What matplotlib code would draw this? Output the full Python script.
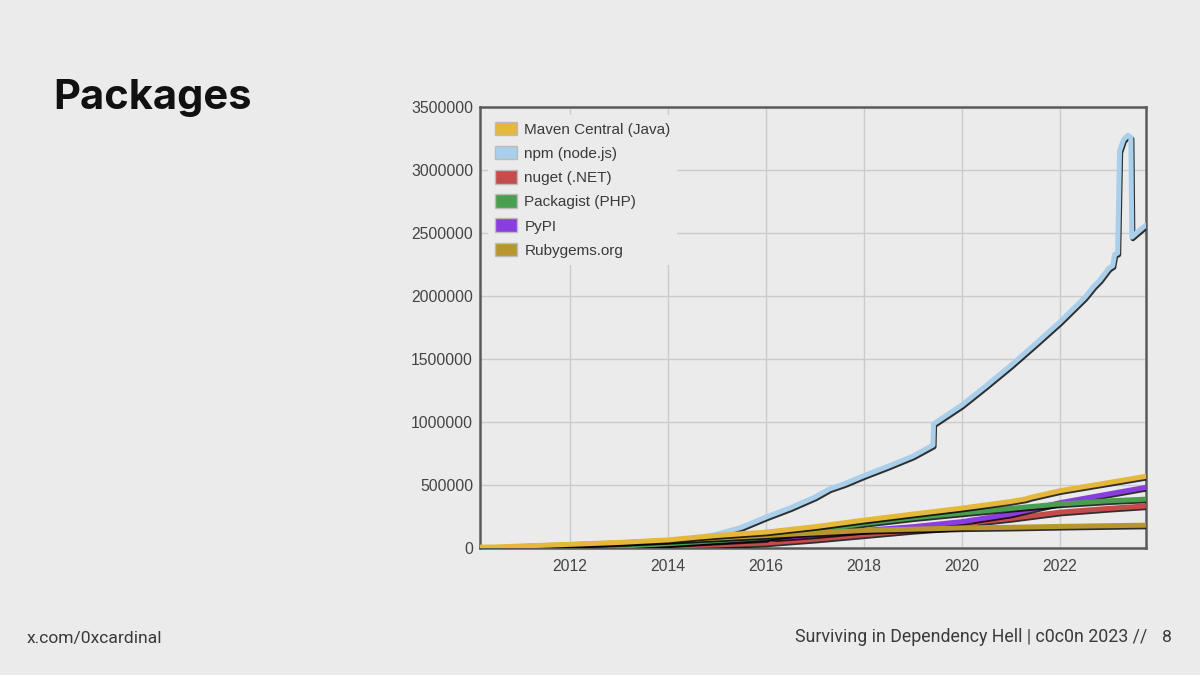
import matplotlib
matplotlib.use("Agg")
import matplotlib.pyplot as plt
import matplotlib.patheffects as pe
from matplotlib.patches import Patch
from matplotlib.ticker import FuncFormatter, MultipleLocator

# Package counts per registry
npm_years = [2010.9, 2011.5, 2012, 2012.5, 2013, 2013.5, 2014, 2014.5, 2015, 2015.5,
             2016, 2016.5, 2017, 2017.3, 2017.6, 2018, 2018.5, 2019, 2019.41, 2019.42,
             2020, 2020.5, 2021, 2021.5, 2022, 2022.5, 2022.55, 2022.7, 2022.82, 2023.0,
             2023.08, 2023.12, 2023.18, 2023.22, 2023.30, 2023.39, 2023.45, 2023.47, 2023.78]
npm_counts = [2000, 5000, 10000, 17000, 26000, 38000, 52000, 75000, 110000, 165000,
              246000, 320000, 405000, 470000, 510000, 575000, 650000, 730000, 817000, 985000,
              1135000, 1290000, 1450000, 1620000, 1794000, 1985000, 2008000, 2080000, 2127000, 2220000,
              2240000, 2330000, 2340000, 3150000, 3240000, 3275000, 3260000, 2468000, 2571000]

maven_years = [2010.15, 2010.45, 2010.9, 2012, 2013, 2014, 2014.6, 2015, 2016, 2017,
               2018, 2019, 2020, 2021, 2021.3, 2021.4, 2022, 2023, 2023.78]
maven_counts = [8000, 9000, 15000, 30000, 45000, 65000, 87000, 100000, 127000, 170000,
                222000, 270000, 317000, 370000, 390000, 402000, 455000, 520000, 571000]

nuget_years = [2011.8, 2012, 2013, 2014, 2015, 2016, 2017, 2018, 2019, 2020.25,
               2020.3, 2021, 2022, 2023, 2023.78]
nuget_counts = [1000, 3000, 8000, 15000, 25000, 40000, 70000, 105000, 140000, 175000,
                205000, 235000, 285000, 315000, 335000]

packagist_years = [2012, 2013, 2014, 2015, 2016, 2017, 2018, 2019, 2020, 2021,
                   2022, 2023, 2023.78]
packagist_counts = [2000, 15000, 35000, 60000, 85000, 135000, 195000, 240000, 278000, 315000,
                    350000, 375000, 389000]

pypi_years = [2011.5, 2012, 2013, 2014, 2015, 2016, 2016.05, 2016.2, 2017, 2018,
              2019, 2020, 2021, 2022, 2023, 2023.78]
pypi_counts = [5000, 10000, 20000, 35000, 55000, 75000, 88000, 82000, 105000, 140000,
               170000, 210000, 270000, 360000, 430000, 484000]

rubygems_years = [2010.9, 2012, 2013, 2014, 2015, 2016, 2017, 2018, 2019, 2020,
                  2021, 2022, 2023, 2023.78]
rubygems_counts = [12000, 28000, 42000, 60000, 80000, 100000, 120000, 140000, 150000, 160000,
                   165000, 172000, 178000, 182000]

labels = ["Maven Central (Java)", "npm (node.js)", "nuget (.NET)",
          "Packagist (PHP)", "PyPI", "Rubygems.org"]
colors = ["#e5b83c", "#a9cfea", "#c64b4b", "#4a9e4f", "#8a3ee0", "#b8962e"]

bg = "#ebebeb"
fig = plt.figure(figsize=(12, 6.75), dpi=100, facecolor=bg)
ax = fig.add_axes([0.4, 0.188, 0.555, 0.6535], facecolor=bg)

shadow = [pe.SimpleLineShadow(offset=(0.8, -1.2), shadow_color="black", alpha=0.8), pe.Normal()]

# drawing order: npm first, Maven on top
series = [
    (npm_years, npm_counts, colors[1]),
    (nuget_years, nuget_counts, colors[2]),
    (pypi_years, pypi_counts, colors[4]),
    (packagist_years, packagist_counts, colors[3]),
    (rubygems_years, rubygems_counts, colors[5]),
    (maven_years, maven_counts, colors[0]),
]
for i, (xs, ys, c) in enumerate(series):
    ax.plot(xs, ys, color=c, lw=3.6, solid_capstyle="butt",
            path_effects=shadow, zorder=3 + i)

ax.set_xlim(2010.16, 2023.76)
ax.set_ylim(0, 3500000)
ax.xaxis.set_major_locator(MultipleLocator(2))
ax.yaxis.set_major_locator(MultipleLocator(500000))
ax.yaxis.set_major_formatter(FuncFormatter(lambda v, p: f"{int(v)}"))
ax.grid(True, color="#cbcbcb", lw=1)
ax.set_axisbelow(True)
ax.tick_params(length=0, labelsize=11.3, labelcolor="#444444")
ax.tick_params(axis="y", pad=5)
ax.tick_params(axis="x", pad=8)
for lbl in ax.get_xticklabels() + ax.get_yticklabels():
    lbl.set_family("Liberation Sans")
for s in ax.spines.values():
    s.set_color("#5a5a5a")
    s.set_linewidth(1.8)

handles = [Patch(facecolor=c, edgecolor="#bbbbbb", lw=1) for c in colors]
leg = ax.legend(handles, labels, loc="upper left", frameon=True, facecolor=bg,
                edgecolor="none", framealpha=1, fancybox=False,
                prop={"family": "Liberation Sans", "size": 11},
                handlelength=1.45, handleheight=1.0, handletextpad=0.5,
                labelspacing=0.6, borderpad=0.45, borderaxespad=0.5)
for t in leg.get_texts():
    t.set_color("#3a3a3a")

fig.text(0.044, 0.838, "Packages", fontsize=30, fontweight="bold",
         family="Inter", color="#111111", va="baseline")
fig.text(0.0225, 0.054, "x.com/0xcardinal", fontsize=12.6, family="Roboto",
         color="#3a3a3a", va="center")
fig.text(0.956, 0.056, "Surviving in Dependency Hell | c0c0n 2023 //", fontsize=12.8,
         family="Roboto", color="#3a3a3a", va="center", ha="right")
fig.text(0.9725, 0.056, "8", fontsize=12.6, family="Roboto", color="#3a3a3a",
         va="center", ha="center")

fig.savefig("out.png", dpi=100, facecolor=bg)
